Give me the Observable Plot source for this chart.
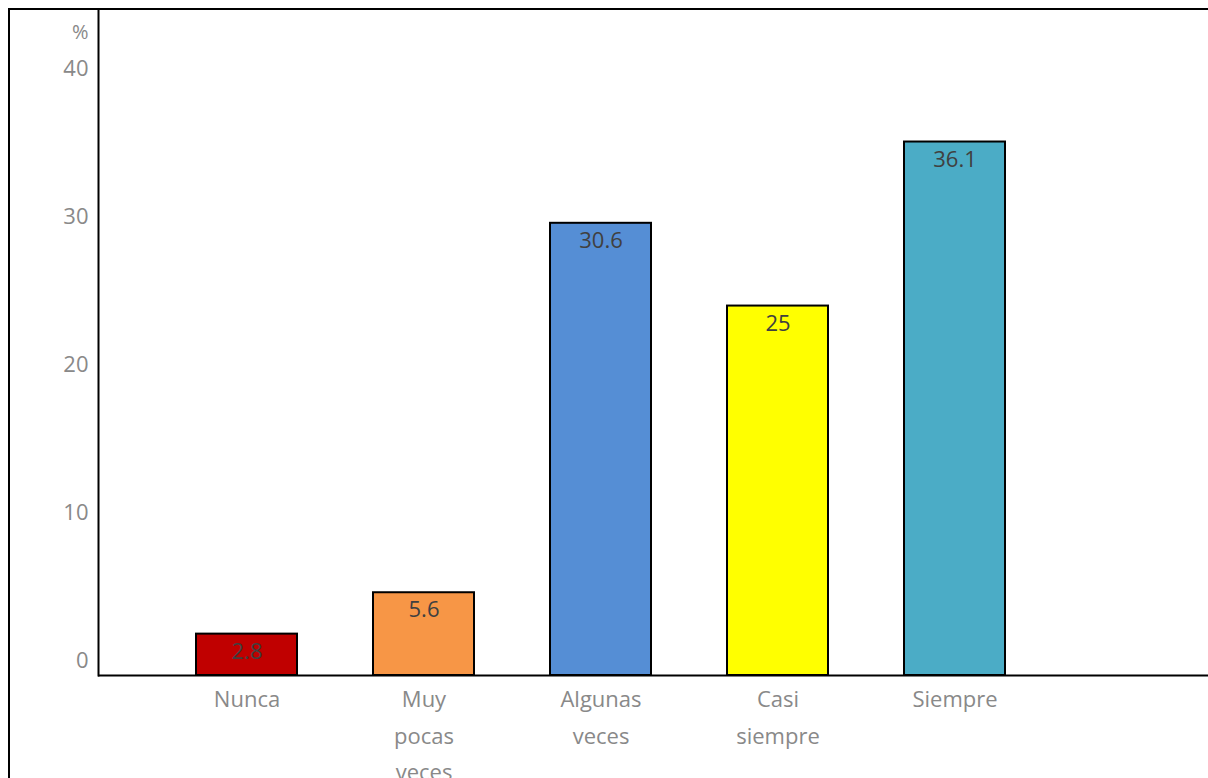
<!DOCTYPE html>
<html>
<head>
<meta charset="utf-8">
<script src="https://cdn.jsdelivr.net/npm/d3@7"></script>
<script src="https://cdn.jsdelivr.net/npm/@observablehq/plot@0.6"></script>
<style>
  html, body { margin: 0; padding: 0; background: #fff; }
  #frame { margin: 8px 0 0 8px; width: 1200px; height: 768px;
           border-top: 2px solid #000; border-left: 2px solid #000; }
  #frame svg { display: block; }
</style>
</head>
<body>
<div id="frame"></div>
<script>
const categories = ["Nunca", "Muy pocas veces", "Algunas veces", "Casi siempre", "Siempre"];
const tickLabels = ["Nunca", "Muy\npocas\nveces", "Algunas\nveces", "Casi\nsiempre", "Siempre"];
const values = [2.8, 5.6, 30.6, 25, 36.1];
const colors = ["#C00000", "#F79646", "#558ED5", "#FFFF00", "#4BACC6"];
const yTicks = [0, 10, 20, 30, 40];

const data = categories.map((c, i) => ({cat: c, value: values[i], color: colors[i]}));
const labelOf = new Map(categories.map((c, i) => [c, tickLabels[i]]));

const chart = Plot.plot({
  width: 1198,
  height: 768,
  marginLeft: 88,
  marginRight: 0,
  marginTop: 0,
  marginBottom: 103,
  style: {fontFamily: "'Open Sans', sans-serif", fontSize: "22px"},
  x: {domain: categories, paddingInner: 0.43, paddingOuter: 0.833, align: 0.325, label: null},
  y: {domain: [0, 45], label: null},
  marks: [
    Plot.barY(data, {x: "cat", y: "value", fill: "color", stroke: "#000", strokeWidth: 2}),
    Plot.text(data, {x: "cat", y: "value", text: d => String(d.value), lineAnchor: "top", dy: 9,
                     fill: "#404040", fontSize: 22}),
    Plot.axisY({ticks: yTicks, tickSize: 0, tickPadding: 10, dy: -15, fill: "#898989", fontSize: 22, label: null}),
    Plot.axisX({tickSize: 0, tickPadding: 6, tickFormat: d => labelOf.get(d), lineHeight: 1.65,
                fill: "#898989", fontSize: 22, label: null}),
    Plot.text(["%"], {frameAnchor: "top-left", text: d => d, textAnchor: "end", dx: -10, dy: 14,
                      fill: "#898989", fontSize: 20}),
    Plot.frame({anchor: "left", stroke: "#000", strokeWidth: 2}),
    Plot.ruleY([0], {stroke: "#000", strokeWidth: 2})
  ]
});
document.getElementById("frame").appendChild(chart);
</script>
</body>
</html>
